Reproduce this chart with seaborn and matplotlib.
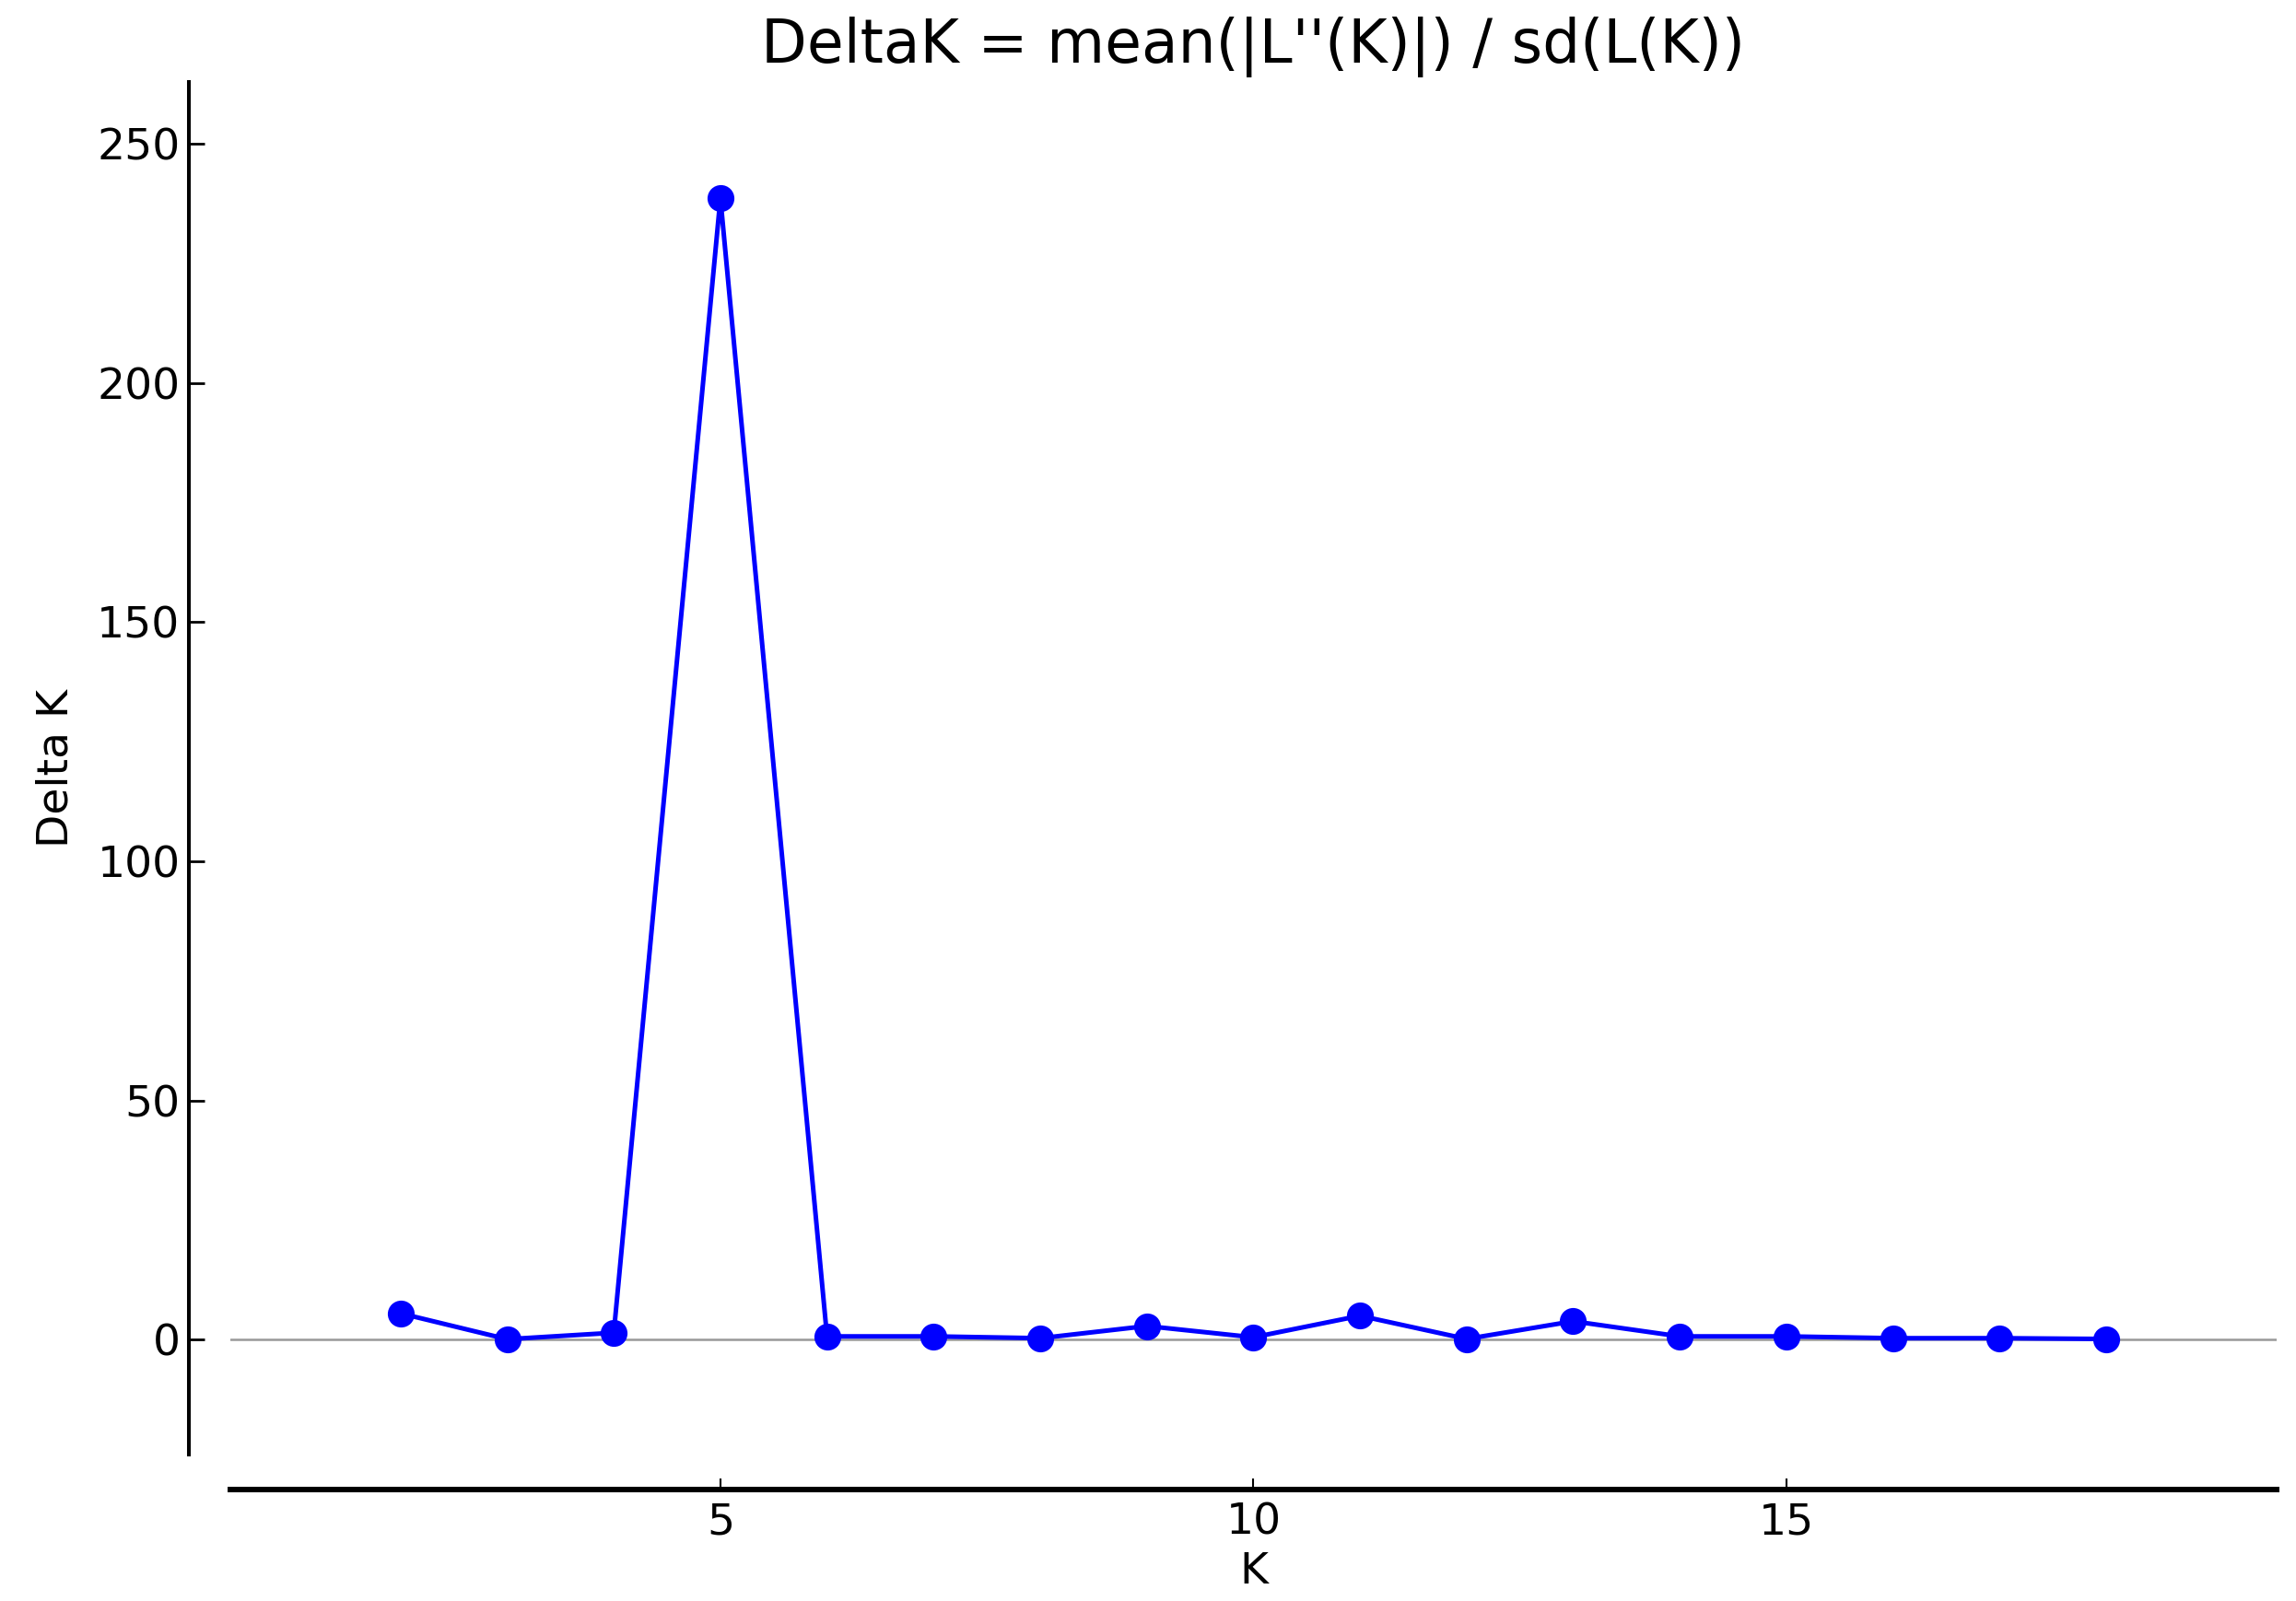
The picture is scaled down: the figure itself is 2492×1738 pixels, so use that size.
import numpy as np
import matplotlib
matplotlib.use("Agg")
import matplotlib.pyplot as plt
import seaborn as sns

# Delta K values
k_values = [2, 3, 4, 5, 6, 7, 8, 9, 10, 11, 12, 13, 14, 15, 16, 17, 18]
delta_k = [5.45, 0.05, 1.4, 238.7, 0.64, 0.64, 0.26, 2.8, 0.45, 4.95,
           0.1, 3.8, 0.64, 0.64, 0.26, 0.26, 0.1]
x_ticks = [5, 10, 15]
y_ticks = [0, 50, 100, 150, 200, 250]

sns.set_style("ticks")
plt.rcParams['font.family'] = ['DejaVu Sans']
plt.rcParams['text.color'] = 'black'
plt.rcParams['axes.labelcolor'] = 'black'
plt.rcParams['xtick.color'] = 'black'
plt.rcParams['ytick.color'] = 'black'
plt.rcParams['axes.edgecolor'] = 'black'

fig = plt.figure(figsize=(24.92, 17.38), dpi=100)
ax = fig.add_axes([0.1002, 0.0917, 0.8914, 0.8571])

# zero reference line
ax.axhline(0, color='#999999', linewidth=1.8, zorder=1)

sns.lineplot(x=k_values, y=delta_k, ax=ax, color='blue', linewidth=3.6,
             marker='o', markersize=21, markeredgewidth=0, zorder=3)

ax.set_xlim(0.4, 19.6)
ax.set_ylim(-24, 263)
ax.set_xticks(x_ticks)
ax.set_yticks(y_ticks)

# detached axes, like the original
ax.spines['top'].set_visible(False)
ax.spines['right'].set_visible(False)
ax.spines['left'].set_position(('outward', 32))
ax.spines['bottom'].set_position(('outward', 27.6))
ax.spines['left'].set_linewidth(2.9)
ax.spines['bottom'].set_linewidth(4.3)

ax.tick_params(axis='y', direction='in', length=12, width=2, pad=7, labelsize=34)
ax.tick_params(axis='x', direction='in', length=9, width=1.5, pad=10, labelsize=34)

ax.set_xlabel('K', fontsize=34, labelpad=6)
ax.set_ylabel('Delta K', fontsize=34, labelpad=16)
ax.set_title("DeltaK = mean(|L''(K)|) / sd(L(K))", fontsize=46.5, pad=15)

fig.savefig('out.png', dpi=100)
